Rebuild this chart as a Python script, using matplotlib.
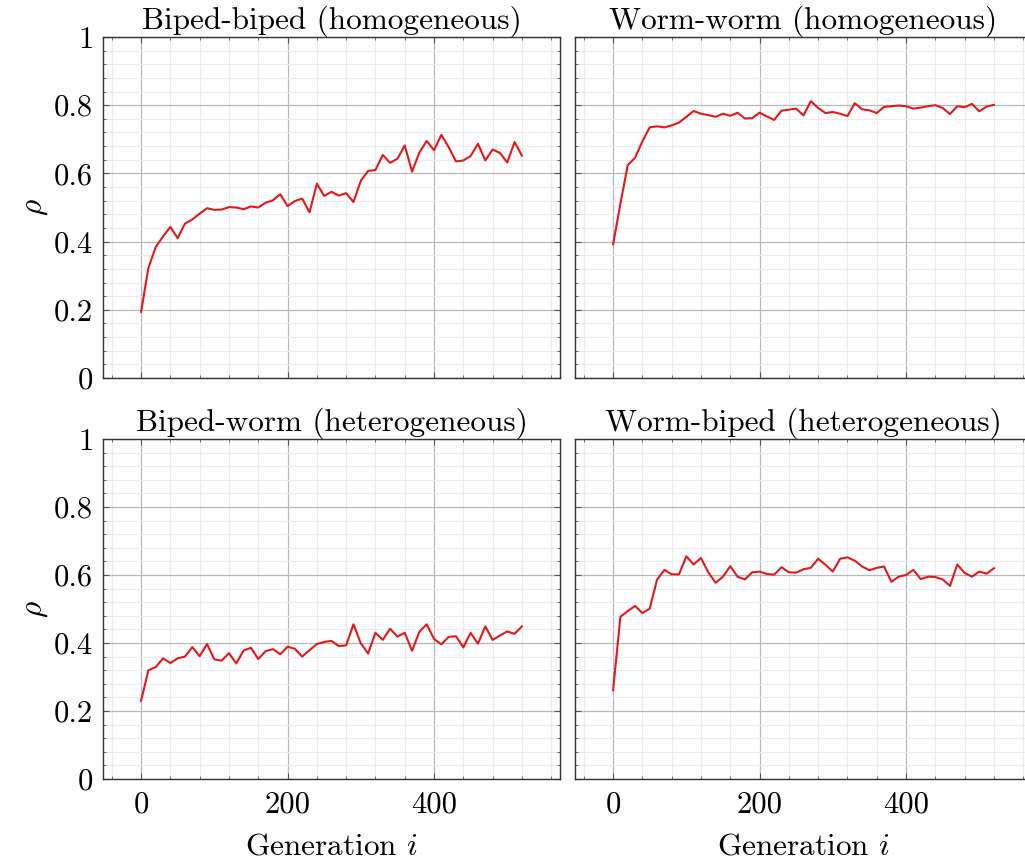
import matplotlib
matplotlib.use("Agg")
import matplotlib.pyplot as plt
import numpy as np
from matplotlib.ticker import MultipleLocator, FixedLocator

plt.rcParams['font.family'] = 'serif'
plt.rcParams['font.serif'] = ['cmr10', 'DejaVu Serif']
plt.rcParams['mathtext.fontset'] = 'cm'
plt.rcParams['axes.unicode_minus'] = False

# generations (one point every 10 generations)
generations = np.arange(0, 530, 10)

biped_biped = [0.194, 0.323, 0.384, 0.415, 0.443, 0.410, 0.453, 0.465, 0.482, 0.498,
               0.493, 0.494, 0.501, 0.500, 0.495, 0.503, 0.500, 0.514, 0.521, 0.539,
               0.504, 0.519, 0.526, 0.486, 0.570, 0.534, 0.546, 0.535, 0.542, 0.516,
               0.578, 0.607, 0.610, 0.654, 0.631, 0.643, 0.682, 0.605, 0.661, 0.695,
               0.668, 0.713, 0.677, 0.635, 0.638, 0.651, 0.687, 0.638, 0.670, 0.660,
               0.632, 0.692, 0.652]

worm_worm = [0.392, 0.511, 0.624, 0.646, 0.694, 0.735, 0.738, 0.735, 0.741, 0.749,
             0.766, 0.783, 0.775, 0.771, 0.766, 0.775, 0.769, 0.778, 0.761, 0.762,
             0.778, 0.767, 0.757, 0.784, 0.787, 0.790, 0.770, 0.812, 0.792, 0.777,
             0.780, 0.775, 0.768, 0.806, 0.788, 0.785, 0.777, 0.795, 0.797, 0.799,
             0.797, 0.790, 0.793, 0.797, 0.800, 0.792, 0.774, 0.797, 0.794, 0.804,
             0.782, 0.796, 0.801]

biped_worm = [0.230, 0.320, 0.329, 0.355, 0.341, 0.355, 0.360, 0.388, 0.361, 0.397,
              0.352, 0.348, 0.370, 0.340, 0.378, 0.386, 0.353, 0.376, 0.382, 0.367,
              0.389, 0.383, 0.360, 0.379, 0.397, 0.403, 0.406, 0.391, 0.393, 0.455,
              0.399, 0.369, 0.430, 0.409, 0.442, 0.419, 0.430, 0.377, 0.433, 0.455,
              0.412, 0.396, 0.418, 0.420, 0.387, 0.430, 0.398, 0.449, 0.409, 0.422,
              0.434, 0.427, 0.449]

worm_biped = [0.261, 0.477, 0.494, 0.509, 0.488, 0.501, 0.586, 0.615, 0.602, 0.602,
              0.655, 0.631, 0.650, 0.608, 0.577, 0.595, 0.626, 0.595, 0.587, 0.608,
              0.610, 0.603, 0.601, 0.623, 0.608, 0.607, 0.617, 0.621, 0.648, 0.630,
              0.610, 0.648, 0.652, 0.642, 0.625, 0.614, 0.621, 0.625, 0.580, 0.595,
              0.600, 0.615, 0.588, 0.595, 0.594, 0.587, 0.568, 0.631, 0.606, 0.595,
              0.610, 0.604, 0.620]

titles = ["Biped-biped (homogeneous)", "Worm-worm (homogeneous)",
          "Biped-worm (heterogeneous)", "Worm-biped (heterogeneous)"]
series = [biped_biped, worm_worm, biped_worm, worm_biped]

ytick_vals = [0, 0.2, 0.4, 0.6, 0.8, 1.0]
ytick_labels = ['0', '0.2', '0.4', '0.6', '0.8', '1']
xtick_vals = [0, 200, 400]

W, H = 1025, 863
fig = plt.figure(figsize=(W / 100, H / 100), dpi=100)

# axes boxes in pixels: left, top, width, height
boxes = [(103, 37, 457, 341), (575, 37, 457, 341),
         (103, 439, 457, 340), (575, 439, 457, 340)]

fs = 22
fs_big = 22.5
for i, (l, t, w, h) in enumerate(boxes):
    ax = fig.add_axes([l / W, 1 - (t + h) / H, w / W, h / H])
    ax.plot(generations, series[i], color='#e3191c', lw=1.5, zorder=3)
    ax.set_xlim(-52, 572)
    ax.set_ylim(0, 1)
    ax.xaxis.set_major_locator(FixedLocator(xtick_vals))
    ax.xaxis.set_minor_locator(MultipleLocator(40))
    ax.yaxis.set_major_locator(FixedLocator(ytick_vals))
    ax.yaxis.set_minor_locator(MultipleLocator(0.04))
    ax.grid(which='major', color='#b8b8b8', lw=0.9)
    ax.grid(which='minor', color='#ececec', lw=0.8)
    ax.set_axisbelow(True)
    ax.tick_params(which='both', direction='in', top=True, right=True,
                   color='#555555', labelsize=fs)
    ax.tick_params(which='major', length=4.5, width=0.8, pad=7)
    ax.tick_params(axis='x', which='major', pad=9)
    ax.tick_params(which='minor', length=2.5, width=0.6)
    for s in ax.spines.values():
        s.set_color('#333333')
        s.set_linewidth(1.0)
    ax.set_title(titles[i], fontsize=fs_big, pad=4)
    if i % 2 == 0:
        ax.set_yticklabels(ytick_labels)
        ax.set_ylabel(r'$\rho$', fontsize=fs_big, labelpad=3)
    else:
        ax.set_yticklabels([])
    if i >= 2:
        ax.set_xticklabels(['0', '200', '400'])
        ax.set_xlabel(r'Generation $i$', fontsize=fs_big, labelpad=10)
    else:
        ax.set_xticklabels([])

fig.savefig('out.png', dpi=100)
